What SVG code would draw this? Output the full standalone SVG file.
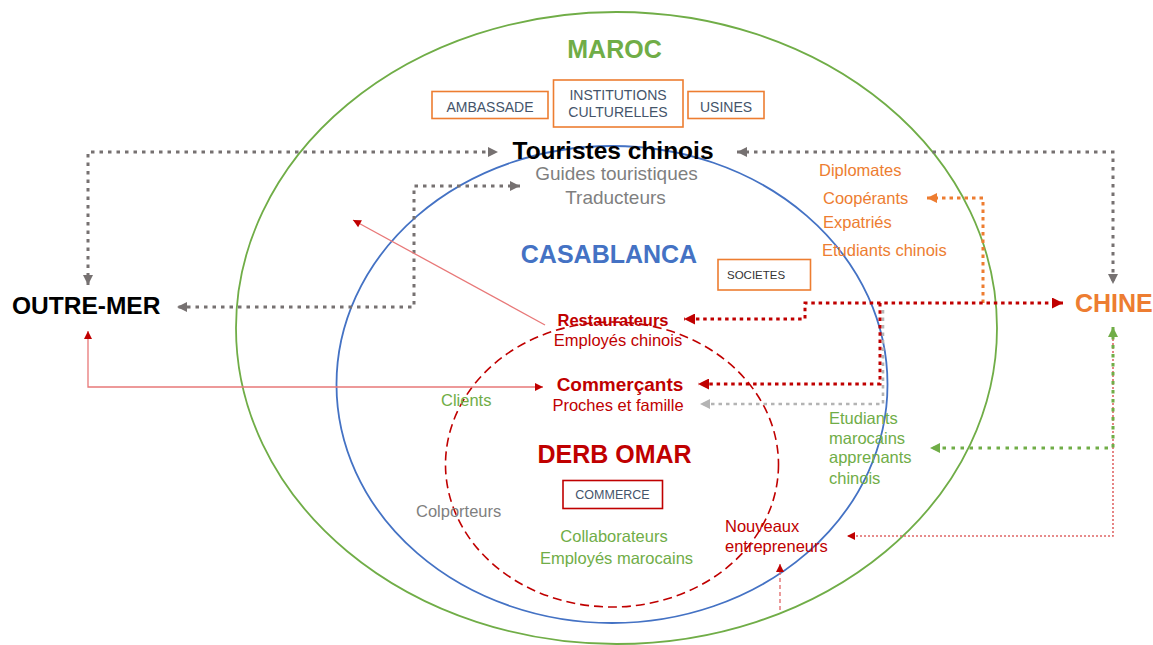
<svg xmlns="http://www.w3.org/2000/svg" width="1153" height="645" viewBox="0 0 1153 645">
<style>
text{font-family:"Liberation Sans",Arial,sans-serif}
.b{font-weight:bold}
.c{text-anchor:middle}
.t16{font-size:16.5px}
.grn{fill:#70ad47}.org{fill:#ed7d31}.red{fill:#c00000}.gry{fill:#7f7f7f}.box{fill:#44546a}
.obox{fill:#fff;stroke:#ed7d31;stroke-width:1.6}
.dg{fill:none;stroke:#767171;stroke-width:3;stroke-dasharray:3.5 5}
.dlg{fill:none;stroke:#b4b4b4;stroke-width:2.6;stroke-dasharray:3.5 4}
.dr{fill:none;stroke:#c00000;stroke-width:3;stroke-dasharray:3.5 3.8}
.do{fill:none;stroke:#ed7d31;stroke-width:3;stroke-dasharray:3.5 4}
.dgr{fill:none;stroke:#70ad47;stroke-width:3;stroke-dasharray:3.5 5.5}
.lr{fill:none;stroke:#e87878;stroke-width:1.3}
.pr{fill:none;stroke:#e06666;stroke-width:1.6;stroke-dasharray:2 2}
.br{fill:none;stroke:#e06666;stroke-width:1.3;stroke-dasharray:4 3}
</style>
<defs>
<marker id="ag" viewBox="0 0 10 10" refX="10" refY="5" markerWidth="11" markerHeight="10" markerUnits="userSpaceOnUse" orient="auto-start-reverse"><path d="M0,0L10,5L0,10z" fill="#767171"/></marker>
<marker id="alg" viewBox="0 0 10 10" refX="10" refY="5" markerWidth="11" markerHeight="10" markerUnits="userSpaceOnUse" orient="auto-start-reverse"><path d="M0,0L10,5L0,10z" fill="#b4b4b4"/></marker>
<marker id="ar" viewBox="0 0 10 10" refX="10" refY="5" markerWidth="12" markerHeight="11" markerUnits="userSpaceOnUse" orient="auto-start-reverse"><path d="M0,0L10,5L0,10z" fill="#c00000"/></marker>
<marker id="ars" viewBox="0 0 10 10" refX="10" refY="5" markerWidth="9" markerHeight="8" markerUnits="userSpaceOnUse" orient="auto-start-reverse"><path d="M0,0L10,5L0,10z" fill="#c00000"/></marker>
<marker id="ao" viewBox="0 0 10 10" refX="10" refY="5" markerWidth="11" markerHeight="10" markerUnits="userSpaceOnUse" orient="auto-start-reverse"><path d="M0,0L10,5L0,10z" fill="#ed7d31"/></marker>
<marker id="agr" viewBox="0 0 10 10" refX="10" refY="5" markerWidth="11" markerHeight="10" markerUnits="userSpaceOnUse" orient="auto-start-reverse"><path d="M0,0L10,5L0,10z" fill="#70ad47"/></marker>
</defs>
<rect width="1153" height="645" fill="#fff"/>

<g id="maroc">
<ellipse cx="616.5" cy="328" rx="380.5" ry="316" fill="none" stroke="#70ad47" stroke-width="1.8"/>
<text x="614.5" y="58" class="b c grn" font-size="25">MAROC</text>
</g>
<g id="casablanca">
<ellipse cx="612" cy="384.5" rx="275.5" ry="238.5" fill="none" stroke="#4472c4" stroke-width="1.8"/>
<text x="609" y="263" class="b c" font-size="25" fill="#4472c4">CASABLANCA</text>
</g>
<g id="derb-omar">
<ellipse cx="612" cy="464.5" rx="166.5" ry="142.5" fill="none" stroke="#c00000" stroke-width="1.6" stroke-dasharray="9 5"/>
<text x="614.5" y="463" class="b c red" font-size="25">DERB OMAR</text>
</g>

<g id="connectors">
<path class="dg" d="M88,285V152H498" marker-start="url(#ag)" marker-end="url(#ag)"/>
<path class="dg" d="M737,152H1113V284" marker-start="url(#ag)" marker-end="url(#ag)"/>
<path class="dg" d="M520,186H414V307H177" marker-start="url(#ag)" marker-end="url(#ag)"/>
<path class="lr" d="M543,387H88V331" marker-start="url(#ars)" marker-end="url(#ars)"/>
<path class="lr" d="M545,325L353,220" marker-end="url(#ars)"/>
<path class="dlg" d="M883,310V404H700" marker-end="url(#alg)"/>
<path class="do" d="M983,303V198H927" marker-end="url(#ao)"/>
<path class="dr" d="M1063,303H805V319H684" marker-start="url(#ar)" marker-end="url(#ar)"/>
<path class="dr" d="M880,303V384H698" marker-end="url(#ar)"/>
<path class="pr" d="M1113,335V536H847" marker-end="url(#ars)"/>
<path class="dgr" d="M1113,327V448H930" marker-start="url(#agr)" marker-end="url(#agr)"/>
<path class="br" d="M780,610V564" marker-end="url(#ars)"/>
</g>

<g id="ambassade">
<rect x="432" y="91.5" width="116" height="27" class="obox"/>
<text x="490" y="112" class="c box" font-size="14">AMBASSADE</text>
</g>
<g id="institutions">
<rect x="553.5" y="80" width="129.5" height="47" class="obox"/>
<text x="618" y="100" class="c box" font-size="14">INSTITUTIONS</text>
<text x="618" y="117" class="c box" font-size="14">CULTURELLES</text>
</g>
<g id="usines">
<rect x="688" y="91.5" width="76" height="27" class="obox"/>
<text x="726" y="112" class="c box" font-size="14">USINES</text>
</g>
<g id="touristes">
<text x="613" y="159" class="b c" font-size="24.5" fill="#000">Touristes chinois</text>
<text x="616.5" y="180" class="c gry" font-size="19">Guides touristiques</text>
<text x="615.5" y="204" class="c gry" font-size="19">Traducteurs</text>
</g>
<g id="diplomates">
<text x="819" y="176" class="t16 org">Diplomates</text>
<text x="823" y="204" class="t16 org">Coopérants</text>
<text x="823" y="228" class="t16 org">Expatriés</text>
<text x="822" y="256" class="t16 org">Etudiants chinois</text>
</g>
<g id="societes">
<rect x="718" y="259.5" width="92.5" height="30.5" class="obox"/>
<text x="727" y="279" font-size="11.5" fill="#333">SOCIETES</text>
</g>
<g id="chine">
<text x="1075" y="312" class="b org" font-size="25">CHINE</text>
</g>
<g id="outre-mer">
<text x="12" y="314" class="b" font-size="24.5" fill="#000">OUTRE-MER</text>
</g>
<g id="restaurateurs">
<text x="613" y="326" class="b c red" font-size="16.5">Restaurateurs</text>
<text x="618" y="346" class="c red t16">Employés chinois</text>
</g>
<g id="commercants">
<text x="620" y="391" class="b c red" font-size="19">Commerçants</text>
<text x="618" y="411" class="c red t16">Proches et famille</text>
</g>
<g id="clients">
<text x="441" y="406" class="t16 grn">Clients</text>
</g>
<g id="commerce">
<rect x="563" y="480.5" width="99.5" height="28" fill="#fff" stroke="#c00000" stroke-width="1.6"/>
<text x="612.5" y="499" class="c box" font-size="12.5">COMMERCE</text>
</g>
<g id="colporteurs">
<text x="416" y="517" class="t16 gry">Colporteurs</text>
</g>
<g id="collaborateurs">
<text x="614" y="542" class="c grn t16">Collaborateurs</text>
<text x="616.5" y="564" class="c grn t16">Employés marocains</text>
</g>
<g id="nouveaux">
<text x="725" y="532" class="red t16">Nouveaux</text>
<text x="725" y="552" class="red t16">entrepreneurs</text>
</g>
<g id="etudiants-marocains">
<text x="829" y="424" class="grn t16">Etudiants</text>
<text x="829" y="444" class="grn t16">marocains</text>
<text x="829" y="463" class="grn t16">apprenants</text>
<text x="829" y="484" class="grn t16">chinois</text>
</g>
</svg>
